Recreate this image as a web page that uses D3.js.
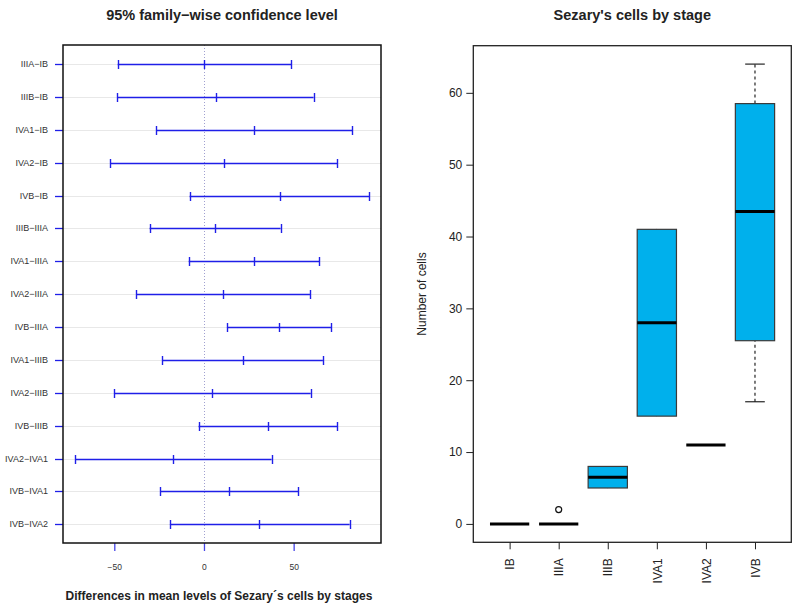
<!DOCTYPE html>
<html>
<head>
<meta charset="utf-8">
<script src="https://cdn.jsdelivr.net/npm/d3@7"></script>
<style>
  body { margin: 0; background: #fff; }
  svg { font-family: "Liberation Sans", Arial, sans-serif; }
</style>
</head>
<body>
<svg id="chart" width="796" height="610"></svg>
<script>
// Tukey comparisons (left panel)
var comparisons = ["IIIA-IB", "IIIB-IB", "IVA1-IB", "IVA2-IB", "IVB-IB", "IIIB-IIIA",
  "IVA1-IIIA", "IVA2-IIIA", "IVB-IIIA", "IVA1-IIIB", "IVA2-IIIB", "IVB-IIIB",
  "IVA2-IVA1", "IVB-IVA1", "IVB-IVA2"];
var diffLwr = [-48.1, -48.3, -26.6, -52.2, -8.0, -30.3, -8.5, -37.7, 12.8, -23.2, -50.2, -3.0, -71.9, -24.5, -19.0];
var diffMid = [0.2, 6.5, 28.0, 11.0, 42.2, 6.0, 27.9, 10.6, 41.8, 21.6, 4.3, 35.5, -17.3, 13.9, 30.8];
var diffUpr = [48.6, 61.1, 82.7, 74.3, 92.0, 42.7, 64.3, 59.1, 70.8, 66.3, 59.5, 74.3, 37.7, 52.6, 81.2];
var diffTicks = [-50, 0, 50];

// boxplot (right panel)
var stages = ["IB", "IIIA", "IIIB", "IVA1", "IVA2", "IVB"];
var whiskLo = [0, 0, 5, 15, 11, 17];
var q1 = [0, 0, 5, 15, 11, 25.5];
var median = [0, 0, 6.5, 28, 11, 43.5];
var q3 = [0, 0, 8, 41, 11, 58.5];
var whiskHi = [0, 0, 8, 41, 11, 64];
var outliers = [{stage: "IIIA", value: 2}];
var cellTicks = [0, 10, 20, 30, 40, 50, 60];

var svg = d3.select("#chart");
var minus = function(s){ return String(s).replace(/-/g, "\u2212"); };

// ---------- left panel ----------
(function(){
  var L = 63, R = 381, T = 45, B = 543;
  var x = d3.scaleLinear().domain([-78.6, 98.7]).range([L, R]);
  var yp = d3.scalePoint().domain(comparisons).range([64, 524.3]);
  var y = function(d){ return Math.round(yp(d)) + 0.5; };
  var blue = "#1f1fe8";
  var g = svg.append("g");

  g.selectAll("line.grid").data(comparisons).enter().append("line")
    .attr("class", "grid")
    .attr("x1", L).attr("x2", R)
    .attr("y1", y).attr("y2", y)
    .style("stroke", "#e8e8e8").style("stroke-width", 1);

  g.append("line")
    .attr("x1", Math.round(x(0)) + 0.5).attr("x2", Math.round(x(0)) + 0.5).attr("y1", T).attr("y2", B)
    .style("stroke", "#a0a0d0").style("stroke-width", 1).style("stroke-dasharray", "1,2");

  var rows = g.selectAll("g.row").data(comparisons).enter().append("g").attr("class", "row");
  rows.append("line")
    .attr("x1", function(d, i){ return x(diffLwr[i]); })
    .attr("x2", function(d, i){ return x(diffUpr[i]); })
    .attr("y1", y).attr("y2", y)
    .style("stroke", blue).style("stroke-width", 1.3);
  [diffLwr, diffMid, diffUpr].forEach(function(arr){
    rows.append("line")
      .attr("x1", function(d, i){ return Math.round(x(arr[i])) + 0.5; })
      .attr("x2", function(d, i){ return Math.round(x(arr[i])) + 0.5; })
      .attr("y1", function(d){ return y(d) - 4.5; })
      .attr("y2", function(d){ return y(d) + 4.5; })
      .style("stroke", blue).style("stroke-width", 1.4);
  });

  // y axis labels
  var ya = g.append("g").attr("transform", "translate(" + L + ",0)")
    .call(d3.axisLeft(yp).tickSize(8).tickPadding(7).tickFormat(minus));
  ya.select(".domain").remove();
  ya.selectAll(".tick").attr("transform", function(d){ return "translate(0," + y(d) + ")"; });
  ya.selectAll(".tick line").style("stroke", blue).style("stroke-width", 1.3);
  ya.selectAll(".tick text").style("font-size", "9px").style("fill", "#333")
    .style("font-family", "Liberation Sans, Arial, sans-serif");

  // x axis
  var xa = g.append("g").attr("transform", "translate(0," + B + ")")
    .call(d3.axisBottom(x).tickValues(diffTicks).tickSize(8).tickPadding(13).tickFormat(minus));
  xa.select(".domain").remove();
  xa.selectAll(".tick line").style("stroke", "#4545e8").style("stroke-width", 1.3);
  xa.selectAll(".tick text").style("font-size", "8.5px").style("fill", "#333")
    .style("font-family", "Liberation Sans, Arial, sans-serif");

  g.append("rect").attr("x", L).attr("y", T).attr("width", R - L).attr("height", B - T)
    .style("fill", "none").style("stroke", "#111").style("stroke-width", 1.5);

  g.append("text").attr("x", (L + R) / 2).attr("y", 20).attr("text-anchor", "middle")
    .style("font-size", "14.5px").style("font-weight", "bold").style("fill", "#222")
    .text("95% family\u2212wise confidence level");
  g.append("text").attr("x", 219).attr("y", 600).attr("text-anchor", "middle")
    .style("font-size", "12px").style("font-weight", "bold").style("fill", "#222")
    .text("Differences in mean levels of Sezary\u00b4s cells by stages");
})();

// ---------- right panel ----------
(function(){
  var L = 473.3, R = 791.3, T = 45.7, B = 542.3;
  var x = d3.scaleLinear().domain([0.26, 6.74]).range([L, R]);
  var y = d3.scaleLinear().domain([-2.56, 66.56]).range([B, T]);
  var g = svg.append("g");
  var hw = 0.4, sw = 0.2;

  var boxes = g.selectAll("g.box").data(stages).enter().append("g").attr("class", "box");
  boxes.append("line")
    .attr("x1", function(d, i){ return x(i + 1); }).attr("x2", function(d, i){ return x(i + 1); })
    .attr("y1", function(d, i){ return y(whiskLo[i]); }).attr("y2", function(d, i){ return y(q1[i]); })
    .style("stroke", "#111").style("stroke-dasharray", "3,3").style("stroke-width", 1.1);
  boxes.append("line")
    .attr("x1", function(d, i){ return x(i + 1); }).attr("x2", function(d, i){ return x(i + 1); })
    .attr("y1", function(d, i){ return y(q3[i]); }).attr("y2", function(d, i){ return y(whiskHi[i]); })
    .style("stroke", "#111").style("stroke-dasharray", "3,3").style("stroke-width", 1.1);
  boxes.filter(function(d, i){ return whiskLo[i] < q1[i]; }).append("line")
    .attr("x1", function(d){ var i = stages.indexOf(d); return x(i + 1 - sw); })
    .attr("x2", function(d){ var i = stages.indexOf(d); return x(i + 1 + sw); })
    .attr("y1", function(d){ return y(whiskLo[stages.indexOf(d)]); })
    .attr("y2", function(d){ return y(whiskLo[stages.indexOf(d)]); })
    .style("stroke", "#111").style("stroke-width", 1.1);
  boxes.filter(function(d, i){ return whiskHi[i] > q3[i]; }).append("line")
    .attr("x1", function(d){ var i = stages.indexOf(d); return x(i + 1 - sw); })
    .attr("x2", function(d){ var i = stages.indexOf(d); return x(i + 1 + sw); })
    .attr("y1", function(d){ return y(whiskHi[stages.indexOf(d)]); })
    .attr("y2", function(d){ return y(whiskHi[stages.indexOf(d)]); })
    .style("stroke", "#111").style("stroke-width", 1.1);
  boxes.filter(function(d, i){ return q3[i] > q1[i]; }).append("rect")
    .attr("x", function(d){ return x(stages.indexOf(d) + 1 - hw); })
    .attr("width", x(2 * hw) - x(0))
    .attr("y", function(d){ return y(q3[stages.indexOf(d)]); })
    .attr("height", function(d){ var i = stages.indexOf(d); return y(q1[i]) - y(q3[i]); })
    .style("fill", "#00b0ec").style("stroke", "#3a3a3a").style("stroke-width", 1.2);
  boxes.append("line")
    .attr("x1", function(d, i){ return x(i + 1 - hw); }).attr("x2", function(d, i){ return x(i + 1 + hw); })
    .attr("y1", function(d, i){ return y(median[i]); }).attr("y2", function(d, i){ return y(median[i]); })
    .style("stroke", "#000").style("stroke-width", 3);

  g.selectAll("circle.out").data(outliers).enter().append("circle")
    .attr("cx", function(d){ return x(stages.indexOf(d.stage) + 1); })
    .attr("cy", function(d){ return y(d.value); })
    .attr("r", 3).style("fill", "none").style("stroke", "#111").style("stroke-width", 1.2);

  var ya = g.append("g").attr("transform", "translate(" + L + ",0)")
    .call(d3.axisLeft(y).tickValues(cellTicks).tickSize(7).tickPadding(4));
  ya.select(".domain").remove();
  ya.selectAll(".tick line").style("stroke", "#222");
  ya.selectAll(".tick text").style("font-size", "12px").style("fill", "#222")
    .style("font-family", "Liberation Sans, Arial, sans-serif");

  var xa = g.append("g").attr("transform", "translate(0," + B + ")")
    .call(d3.axisBottom(x).tickValues(d3.range(1, stages.length + 1)).tickSize(7)
      .tickFormat(function(d){ return stages[d - 1]; }));
  xa.select(".domain").remove();
  xa.selectAll(".tick line").style("stroke", "#222");
  xa.selectAll(".tick text")
    .attr("transform", "rotate(-90)").attr("x", -16).attr("y", 0).attr("dy", "0.35em")
    .style("text-anchor", "end")
    .style("font-size", "12px").style("fill", "#222")
    .style("font-family", "Liberation Sans, Arial, sans-serif");

  g.append("rect").attr("x", L).attr("y", T).attr("width", R - L).attr("height", B - T)
    .style("fill", "none").style("stroke", "#222").style("stroke-width", 1.3);

  g.append("text").attr("transform", "translate(426," + (T + B) / 2 + ") rotate(-90)")
    .attr("text-anchor", "middle")
    .style("font-size", "12px").style("fill", "#222")
    .text("Number of cells");

  g.append("text").attr("x", (L + R) / 2).attr("y", 20).attr("text-anchor", "middle")
    .style("font-size", "14.5px").style("font-weight", "bold").style("fill", "#222")
    .text("Sezary's cells by stage");
})();
</script>
</body>
</html>
